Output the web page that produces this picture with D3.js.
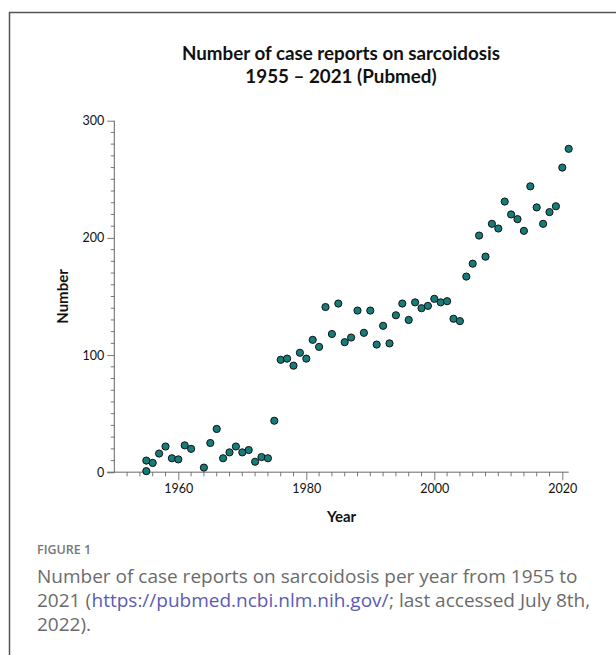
<!DOCTYPE html>
<html>
<head>
<meta charset="utf-8">
<script src="https://cdn.jsdelivr.net/npm/d3@7"></script>
<style>
  html, body { margin: 0; padding: 0; background: #fff; }
  svg { display: block; }
</style>
</head>
<body>
<svg id="chart" width="616" height="655"></svg>
<script>
// ---- data ----
const years = [1955, 1955, 1956, 1957, 1958, 1959, 1960, 1961, 1962, 1964, 1965, 1966, 1967, 1968, 1969,
  1970, 1971, 1972, 1973, 1974, 1975, 1976, 1977, 1978, 1979, 1980, 1981, 1982, 1983, 1984,
  1985, 1986, 1987, 1988, 1989, 1990, 1991, 1992, 1993, 1994, 1995, 1996, 1997, 1998, 1999,
  2000, 2001, 2002, 2003, 2004, 2005, 2006, 2007, 2008, 2009, 2010, 2011, 2012, 2013, 2014,
  2015, 2016, 2017, 2018, 2019, 2020, 2021];
const counts = [1, 10, 8, 16, 22, 12, 11, 23, 20, 4, 25, 37, 12, 17, 22,
  17, 19, 9, 13, 12, 44, 96, 97, 91, 102, 97, 113, 107, 141, 118,
  144, 111, 115, 138, 119, 138, 109, 125, 110, 134, 144, 130, 145, 140, 142,
  148, 145, 146, 131, 129, 167, 178, 202, 184, 212, 208, 231, 220, 216, 206,
  244, 226, 212, 222, 227, 260, 276];
const yMajorTicks = [0, 100, 200, 300];
const xMajorTicks = [1960, 1980, 2000, 2020];
const titleLines = ["Number of case reports on sarcoidosis", "1955 \u2013 2021 (Pubmed)"];
const xLabel = "Year";
const yLabel = "Number";
const figLabel = "FIGURE 1";
const captionLine1 = "Number of case reports on sarcoidosis per year from 1955 to";
const captionLink = "https://pubmed.ncbi.nlm.nih.gov/";
const captionLine2Pre = "2021 (";
const captionLine2Post = "; last accessed July 8th,";
const captionLine3 = "2022).";

const points = years.map((yr, i) => ({ year: yr, count: counts[i] }));

const svg = d3.select("#chart");
const pLeft = 114.3, pRight = 568.7, pTop = 120.7, pBottom = 472.3;

const x = d3.scaleLinear().domain([1950, 2021]).range([pLeft, pRight]);
const y = d3.scaleLinear().domain([0, 300]).range([pBottom, pTop]);

// frame (top & left border)
svg.append("path")
  .attr("d", `M9.5,655 V12.5 H616`)
  .attr("fill", "none")
  .attr("stroke", "#555")
  .attr("stroke-width", 1.5);

// title
titleLines.forEach((t, i) => {
  svg.append("text")
    .attr("text-anchor", "middle")
    .attr("font-family", "Lato, 'Open Sans', sans-serif")
    .attr("font-weight", "bold")
    .attr("font-size", 18.8)
    .attr("fill", "#111")
    .attr("x", 341).attr("y", 60 + i * 22.5).text(t);
});

// x axis
const xMinor = d3.range(1952, 2021, 2).filter(v => !xMajorTicks.includes(v));
const gx = svg.append("g").attr("transform", `translate(0,${pBottom})`);
gx.append("line")
  .attr("x1", 107).attr("x2", pRight)
  .attr("stroke", "#9a9a9a").attr("stroke-width", 1.6);
gx.selectAll(".minor").data(xMinor).join("line")
  .attr("x1", d => x(d)).attr("x2", d => x(d))
  .attr("y1", 0).attr("y2", 4)
  .attr("stroke", "#555").attr("stroke-width", 0.8);
const xAxis = d3.axisBottom(x).tickValues(xMajorTicks).tickFormat(d3.format("d")).tickSize(8).tickPadding(4);
const gxMajor = svg.append("g").attr("transform", `translate(0,${pBottom})`).call(xAxis);
gxMajor.select(".domain").remove();
gxMajor.selectAll(".tick line").attr("stroke", "#555").attr("stroke-width", 0.8);
gxMajor.selectAll(".tick text")
  .attr("font-family", "Lato, 'Open Sans', sans-serif")
  .attr("font-size", 12.5)
  .attr("fill", "#111");

// y axis
const yMinor = d3.range(10, 300, 10).filter(v => !yMajorTicks.includes(v));
const gy = svg.append("g").attr("transform", `translate(${pLeft},0)`);
gy.append("line")
  .attr("y1", y(0)).attr("y2", y(300))
  .attr("stroke", "#666").attr("stroke-width", 1);
gy.selectAll(".minor").data(yMinor).join("line")
  .attr("x1", -3.5).attr("x2", 0)
  .attr("y1", d => y(d)).attr("y2", d => y(d))
  .attr("stroke", "#555").attr("stroke-width", 0.8);
const yAxis = d3.axisLeft(y).tickValues(yMajorTicks).tickFormat(d3.format("d")).tickSize(7).tickPadding(3);
const gyMajor = svg.append("g").attr("transform", `translate(${pLeft},0)`).call(yAxis);
gyMajor.select(".domain").remove();
gyMajor.selectAll(".tick line").attr("stroke", "#555").attr("stroke-width", 0.8);
gyMajor.selectAll(".tick text")
  .attr("font-family", "Lato, 'Open Sans', sans-serif")
  .attr("font-size", 12.5)
  .attr("fill", "#111");

// axis titles
svg.append("text")
  .attr("x", (pLeft + pRight) / 2).attr("y", 522)
  .attr("text-anchor", "middle")
  .attr("font-family", "Lato, 'Open Sans', sans-serif")
  .attr("font-weight", "bold").attr("font-size", 15)
  .attr("fill", "#111").text(xLabel);
svg.append("text")
  .attr("transform", `translate(68,${(pTop + pBottom) / 2}) rotate(-90)`)
  .attr("text-anchor", "middle")
  .attr("font-family", "Lato, 'Open Sans', sans-serif")
  .attr("font-weight", "bold").attr("font-size", 15)
  .attr("fill", "#111").text(yLabel);

// points
svg.append("g").selectAll("circle").data(points).join("circle")
  .attr("cx", d => x(d.year))
  .attr("cy", d => y(d.count))
  .attr("r", 3.6)
  .attr("fill", "#167c79")
  .attr("stroke", "#111")
  .attr("stroke-width", 1);

// caption
const capFont = "'Open Sans', 'Noto Sans', sans-serif";
svg.append("text")
  .attr("x", 37).attr("y", 554)
  .attr("font-family", capFont).attr("font-size", 12.5)
  .attr("font-weight", 600)
  .attr("fill", "#777").text(figLabel);
function capText(xPos, yPos, txt, color) {
  return svg.append("text")
    .attr("x", xPos).attr("y", yPos)
    .attr("font-family", capFont).attr("font-size", 19)
    .attr("font-weight", 400)
    .attr("fill", color || "#6b6b6b")
    .text(txt);
}
capText(37, 583, captionLine1);
const seg1 = capText(37, 607, captionLine2Pre);
const x2 = 37 + seg1.node().getComputedTextLength() + 0.5;
const seg2 = capText(x2, 607, captionLink, "#5b5bb5");
const x3 = x2 + seg2.node().getComputedTextLength() + 0.5;
capText(x3, 607, captionLine2Post);
capText(37, 631, captionLine3);
</script>
</body>
</html>
